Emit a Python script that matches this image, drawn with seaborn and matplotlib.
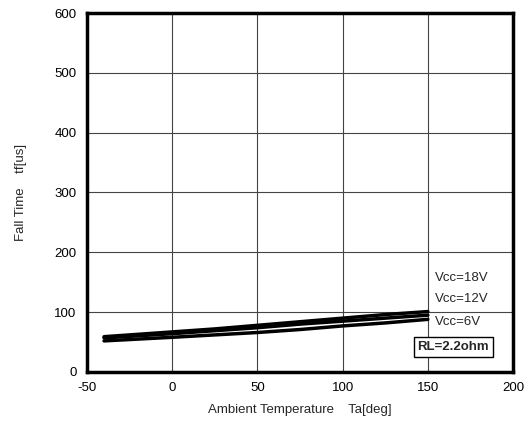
import matplotlib
matplotlib.use("Agg")
import matplotlib.pyplot as plt
import seaborn as sns
import pandas as pd

temps = [-40, 0, 25, 50, 75, 100, 125, 150]
vcc18 = [59, 67, 72, 78, 84, 90, 96, 101]
vcc12 = [57, 64, 69, 74, 80, 85, 90, 95]
vcc6 = [52, 58, 62, 66, 71, 77, 82, 88]
series_names = ["Vcc=18V", "Vcc=12V", "Vcc=6V"]

sns.set_style("white")
plt.rcParams['font.family'] = ['Liberation Sans', 'DejaVu Sans']
plt.rcParams['axes.unicode_minus'] = False

df = pd.DataFrame({
    "T": temps * 3,
    "tf": vcc18 + vcc12 + vcc6,
    "s": [series_names[0]] * len(temps) + [series_names[1]] * len(temps) + [series_names[2]] * len(temps),
})

fs = 9.5
fig = plt.figure(figsize=(5.29, 4.32), dpi=100)
ax = fig.add_axes([0.1645, 0.1389, 0.8053, 0.831])
sns.lineplot(data=df, x="T", y="tf", hue="s", palette=["black"] * 3,
             linewidth=2.5, legend=False, ax=ax, estimator=None)

ax.set_xlim(-50, 200)
ax.set_ylim(0, 600)
ax.set_xticks(range(-50, 201, 50))
ax.set_yticks(range(0, 601, 100))
ax.grid(True, color="#444444", linewidth=0.8)
for sp in ax.spines.values():
    sp.set_visible(True)
    sp.set_color("black")
    sp.set_linewidth(2.5)
ax.tick_params(axis="both", direction="out", length=4, width=0.8, labelsize=fs, colors="black")
ax.set_xlabel("Ambient Temperature    Ta[deg]", fontsize=fs, labelpad=7)
ax.set_ylabel("Fall Time    tf[us]", fontsize=fs, labelpad=20)

ax.text(154, 157, series_names[0], fontsize=fs, va="center", ha="left")
ax.text(154, 122, series_names[1], fontsize=fs, va="center", ha="left")
ax.text(154, 84, series_names[2], fontsize=fs, va="center", ha="left")
ax.text(144, 42, "RL=2.2ohm", fontsize=fs, fontweight="bold", va="center", ha="left",
        bbox=dict(boxstyle="square,pad=0.3", facecolor="white", edgecolor="black", linewidth=1))

fig.savefig("out.png", dpi=100)
